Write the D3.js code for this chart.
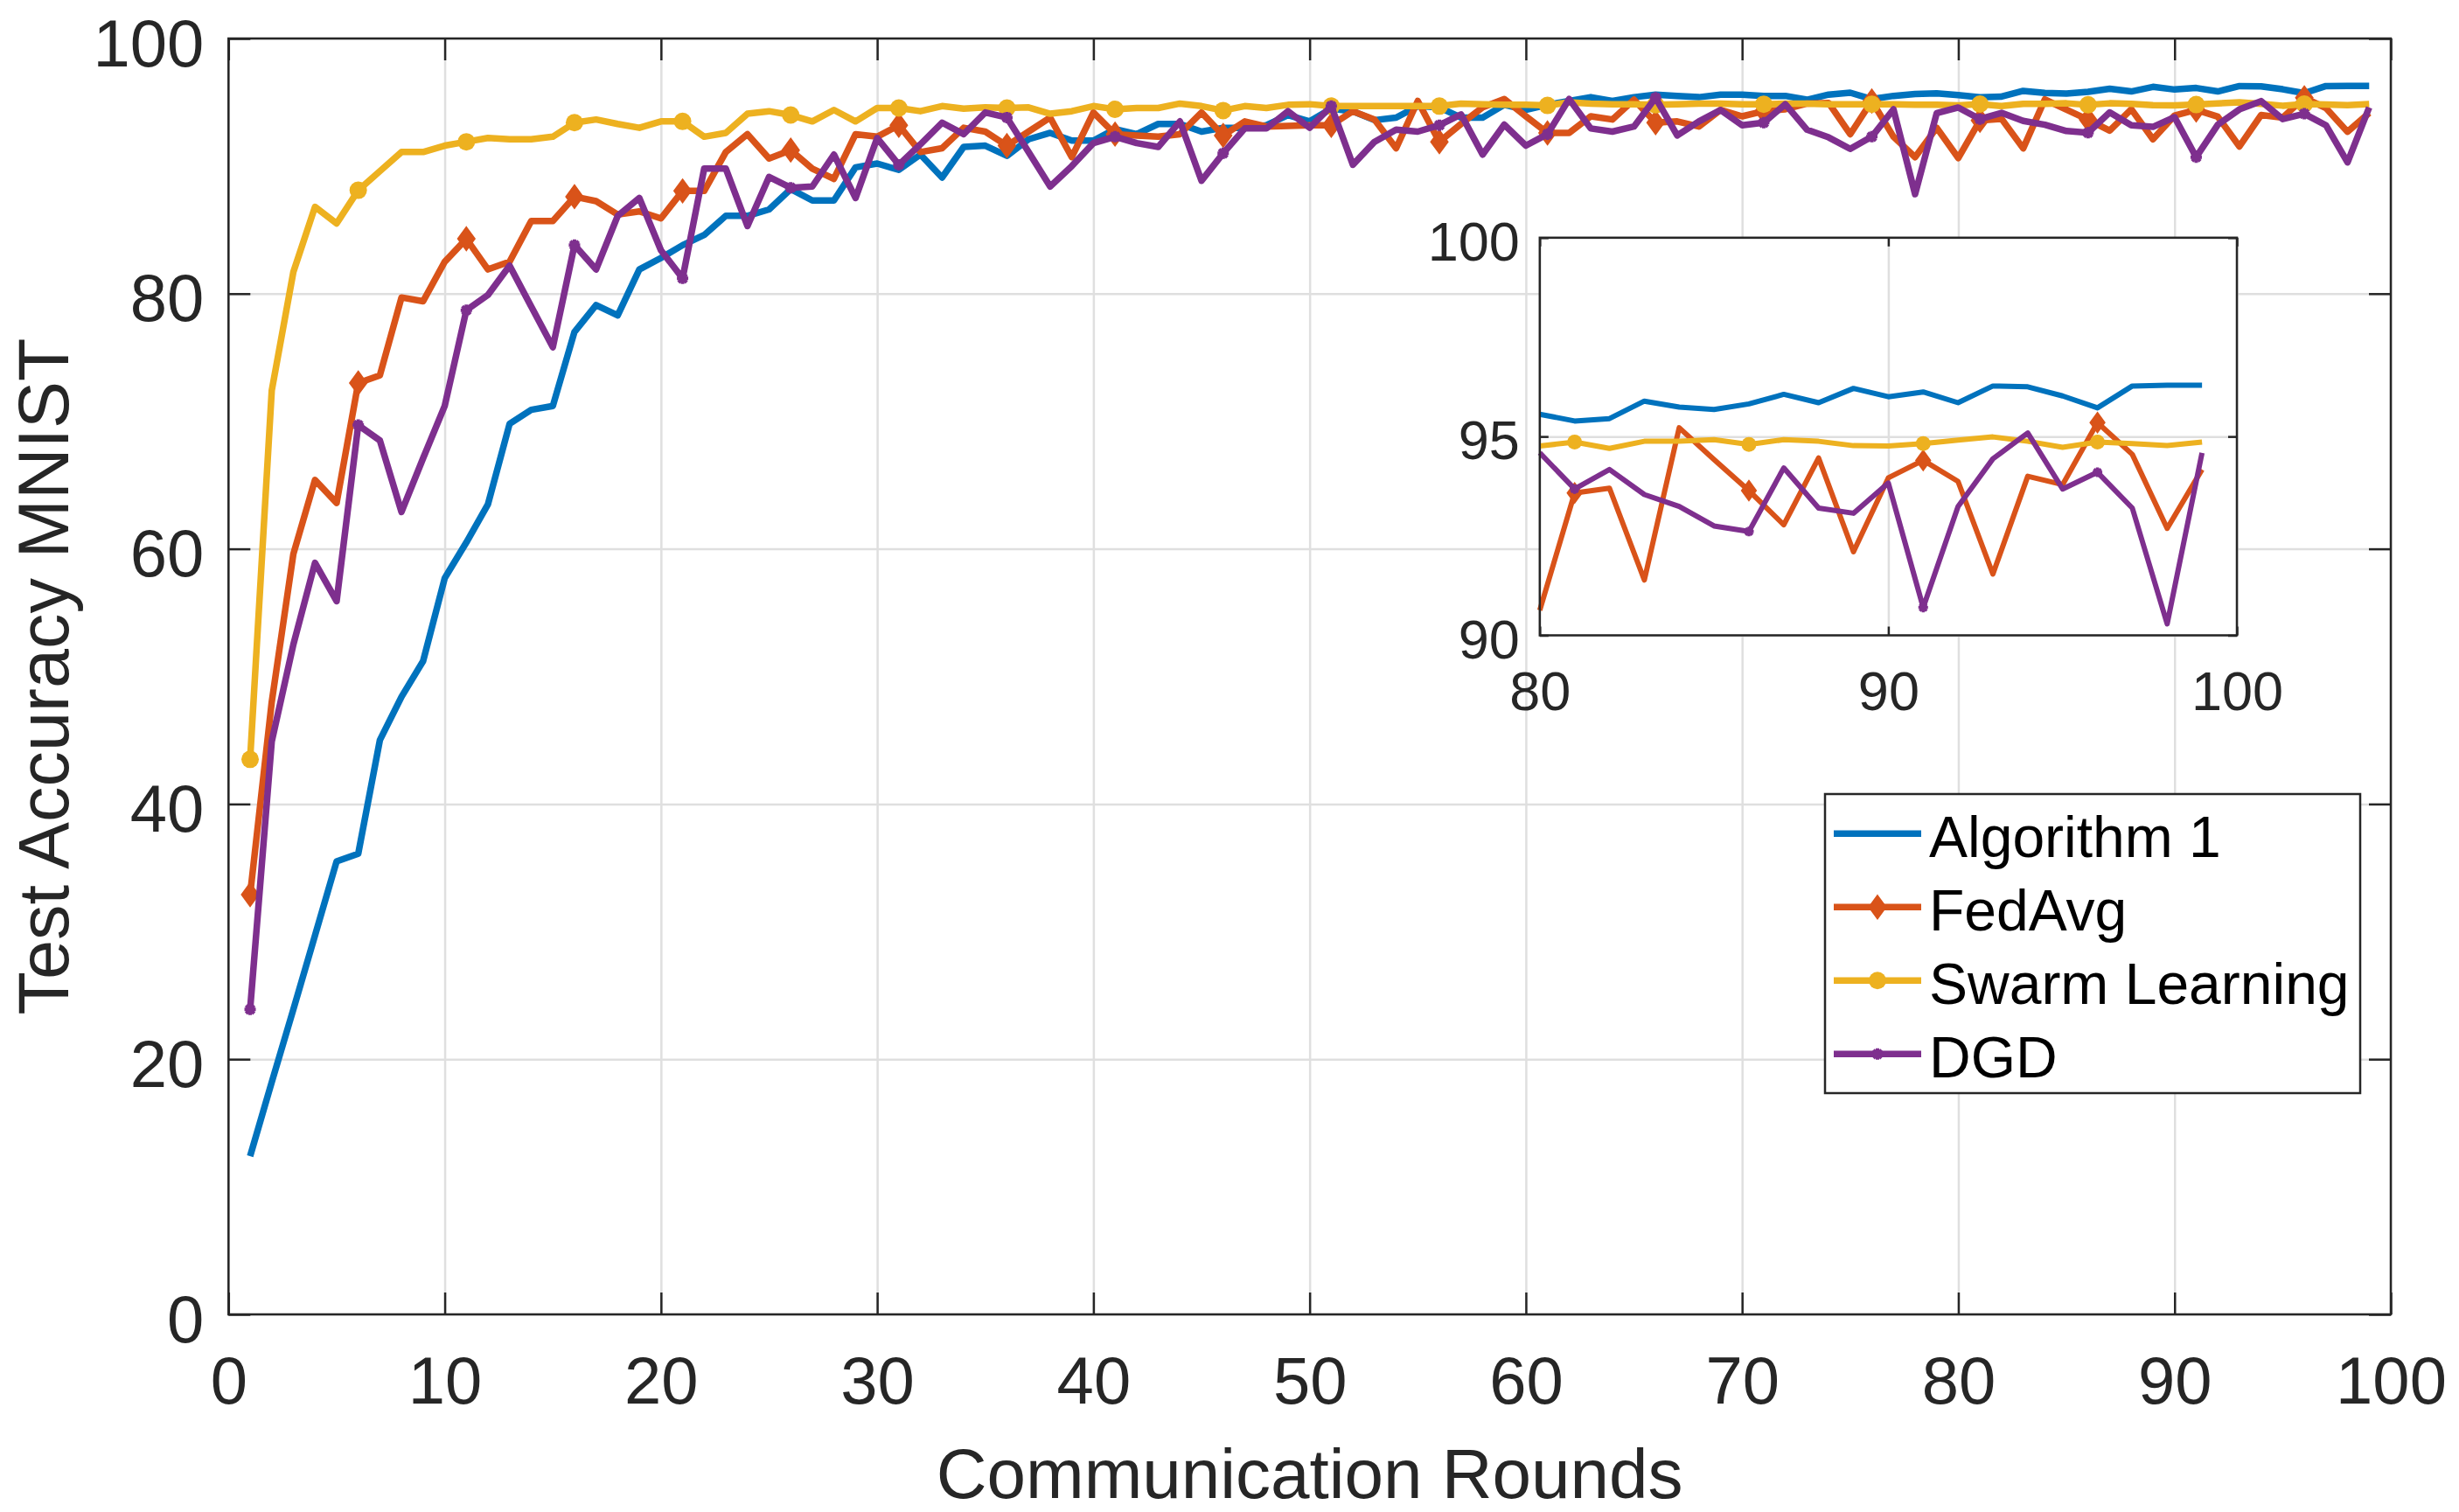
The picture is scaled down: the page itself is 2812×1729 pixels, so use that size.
<!DOCTYPE html>
<html>
<head>
<meta charset="utf-8">
<script src="https://cdn.jsdelivr.net/npm/d3@7"></script>
<style>
  html, body { margin: 0; padding: 0; background: #fff; }
  svg { display: block; }
  text { font-family: "Liberation Sans", Arial, Helvetica, sans-serif; }
</style>
</head>
<body>
<svg id="chart" width="2812" height="1729"></svg>
<script>
/**
 * Data (test accuracy in %, one value per round 1..99).
 */
const rounds = d3.range(1, 100);

const algorithm1 = [
    12.4, 18.2, 23.9, 29.7, 35.5, 36.1, 45.0, 48.4, 51.2, 57.7,
    60.5, 63.5, 69.8, 70.9, 71.2, 77.0, 79.1, 78.3, 81.9, 82.8,
    83.8, 84.6, 86.1, 86.1, 86.6, 88.2, 87.3, 87.3, 89.9, 90.2,
    89.7, 90.9, 89.1, 91.5, 91.6, 90.8, 92.1, 92.6, 92.0, 92.0,
    92.9, 92.5, 93.3, 93.3, 92.7, 93.0, 93.0, 93.2, 94.0, 93.5,
    94.5, 94.3, 93.6, 93.8, 94.7, 94.6, 93.8, 93.8, 94.8, 94.4,
    94.8, 95.1, 95.4, 95.1, 95.4, 95.6, 95.5, 95.4, 95.6, 95.6,
    95.5, 95.5, 95.2, 95.6, 95.75, 95.25, 95.5, 95.65, 95.7, 95.56,
    95.39, 95.45, 95.89, 95.74, 95.68, 95.82, 96.06, 95.85, 96.21, 96.0,
    96.12, 95.85, 96.27, 96.25, 96.02, 95.72, 96.27, 96.29, 96.29
];

const fedAvg = [
    32.9, 48.0, 59.6, 65.4, 63.6, 73.0, 73.6, 79.7, 79.4, 82.5,
    84.3, 81.9, 82.5, 85.7, 85.7, 87.6, 87.25, 86.2, 86.45, 85.9,
    88.05, 88.05, 91.1, 92.5, 90.6, 91.25, 89.8, 89.0, 92.5, 92.3,
    93.2, 91.1, 91.4, 93.0, 92.7, 91.6, 92.7, 93.8, 90.7, 94.2,
    92.5, 92.4, 92.3, 92.5, 94.2, 92.4, 93.5, 93.1, 93.15, 93.2,
    93.2, 94.3, 93.65, 91.4, 95.1, 91.9, 93.3, 94.6, 95.25, 93.9,
    92.6, 92.6, 93.9, 93.65, 95.2, 93.4, 93.5, 93.1, 94.4, 93.9,
    94.3, 94.45, 94.9, 94.95, 92.5, 95.1, 92.3, 90.7, 93.0, 90.63,
    93.58, 93.7, 91.39, 95.22, 94.42, 93.64, 92.78, 94.46, 92.1, 93.96,
    94.4, 93.87, 91.54, 94.0, 93.79, 95.35, 94.55, 92.69, 94.17
];

const swarmLearning = [
    43.5, 72.4, 81.7, 86.8, 85.5, 88.1, 89.6, 91.1, 91.1, 91.6,
    91.9, 92.2, 92.1, 92.1, 92.3, 93.4, 93.65, 93.3, 93.0, 93.5,
    93.5, 92.3, 92.6, 94.1, 94.3, 94.0, 93.5, 94.4, 93.5, 94.55,
    94.55, 94.3, 94.7, 94.5, 94.6, 94.55, 94.6, 94.1, 94.3, 94.7,
    94.45, 94.55, 94.55, 94.9, 94.7, 94.35, 94.7, 94.55, 94.8, 94.85,
    94.7, 94.7, 94.7, 94.7, 94.7, 94.7, 94.9, 94.85, 94.8, 94.8,
    94.75, 95.0, 94.9, 94.85, 94.85, 94.8, 94.85, 94.9, 94.9, 94.85,
    94.85, 94.9, 94.9, 94.85, 94.85, 94.85, 94.85, 94.8, 94.8, 94.76,
    94.86, 94.7, 94.88, 94.88, 94.92, 94.8, 94.92, 94.88, 94.77, 94.76,
    94.82, 94.91, 94.99, 94.88, 94.73, 94.86, 94.82, 94.77, 94.86
];

const dgd = [
    23.9, 44.9, 52.5, 58.9, 55.9, 69.7, 68.5, 62.9, 67.1, 71.2,
    78.7, 79.9, 82.2, 79.0, 75.8, 83.8, 81.9, 86.1, 87.5, 83.4,
    81.2, 89.8, 89.8, 85.3, 89.15, 88.3, 88.4, 90.9, 87.5, 92.2,
    90.1, 91.7, 93.4, 92.5, 94.2, 93.8, 91.1, 88.4, 90.0, 91.8,
    92.3, 91.8, 91.5, 93.5, 88.85, 91.0, 92.95, 92.95, 94.3, 93.0,
    94.7, 90.1, 91.9, 92.85, 92.7, 93.2, 94.05, 90.9, 93.25, 91.6,
    92.5, 95.25, 92.95, 92.7, 93.1, 95.35, 92.4, 93.5, 94.4, 93.2,
    93.4, 94.85, 92.85, 92.25, 91.35, 92.3, 94.45, 87.8, 94.15, 94.59,
    93.68, 94.17, 93.54, 93.24, 92.75, 92.61, 94.21, 93.2, 93.07, 93.83,
    90.7, 93.24, 94.44, 95.09, 93.68, 94.1, 93.2, 90.29, 94.59
];

const seriesNames = ['Algorithm 1', 'FedAvg', 'Swarm Learning', 'DGD'];

const xTicks = [0, 10, 20, 30, 40, 50, 60, 70, 80, 90, 100];
const yTicks = [0, 20, 40, 60, 80, 100];
const insetXTicks = [80, 90, 100];
const insetYTicks = [90, 95, 100];

/**
 * Visual configs.
 */
const axisColor = '#262626',
    gridColor = '#dfdfdf';

const series = [
    { name: seriesNames[0], values: algorithm1, color: '#0072BD', marker: 'none' },
    { name: seriesNames[1], values: fedAvg, color: '#D95319', marker: 'diamond' },
    { name: seriesNames[2], values: swarmLearning, color: '#EDB120', marker: 'circle' },
    { name: seriesNames[3], values: dgd, color: '#7E2F8E', marker: 'asterisk' }
];

const main = { left: 261.3, right: 2734, top: 44, bottom: 1503 },
    inset = { left: 1760.8, right: 2558, top: 271.8, bottom: 726.5 };

const svg = d3.select('#chart');

/**
 * Draws a marker shape into a selection of groups.
 */
function drawMarker(sel, type, color, k) {
    if (type === 'circle') {
        sel.append('circle').attr('r', 10 * k).attr('fill', color);
    } else if (type === 'diamond') {
        sel.append('path')
            .attr('d', `M0,${-13 * k}L${9.5 * k},0L0,${13 * k}L${-9.5 * k},0Z`)
            .attr('fill', color).attr('stroke', color).attr('stroke-width', 2);
    } else if (type === 'asterisk') {
        const r = 6.5 * k, d = r * 0.72;
        sel.append('path')
            .attr('d', `M${-r},0H${r}M0,${-r}V${r}M${-d},${-d}L${d},${d}M${-d},${d}L${d},${-d}`)
            .attr('stroke', color).attr('stroke-width', 4 * k).attr('fill', 'none');
    }
}

/**
 * Draws one axes panel (grid, series, box, ticks).
 */
function drawPanel(box, xDomain, yDomain, opt) {
    const width = box.right - box.left,
        height = box.bottom - box.top;

    const xScale = d3.scaleLinear().domain(xDomain).range([box.left, box.right]),
        yScale = d3.scaleLinear().domain(yDomain).range([box.bottom, box.top]);

    const g = svg.append('g').attr('class', opt.cls);

    // Background
    g.append('rect')
        .attr('x', box.left).attr('y', box.top)
        .attr('width', width).attr('height', height)
        .attr('fill', '#fff');

    // Grid
    const gridX = g.append('g').attr('transform', `translate(0,${box.bottom})`)
        .call(d3.axisBottom(xScale).tickValues(opt.xTicks).tickSize(-height).tickFormat(''));
    const gridY = g.append('g').attr('transform', `translate(${box.left},0)`)
        .call(d3.axisLeft(yScale).tickValues(opt.yTicks).tickSize(-width).tickFormat(''));
    [gridX, gridY].forEach(a => {
        a.select('.domain').remove();
        a.selectAll('line').attr('stroke', gridColor).attr('stroke-width', 2.5);
    });

    // Series
    const line = d3.line().x(d => xScale(d[0])).y(d => yScale(d[1]));
    const items = g.append('g').attr('class', 'items');
    series.forEach(s => {
        const pts = rounds.map((r, i) => [r, s.values[i]])
            .filter(d => d[0] >= xDomain[0] && d[0] <= xDomain[1]);
        const item = items.append('g').attr('class', 'item');
        item.append('path')
            .attr('d', line(pts))
            .attr('fill', 'none')
            .attr('stroke', s.color)
            .attr('stroke-width', opt.lineWidth)
            .attr('stroke-linejoin', 'round');
        if (s.marker !== 'none') {
            const marks = pts.filter(d => (d[0] - 1) % 5 === 0);
            item.selectAll('g.mark').data(marks).enter().append('g')
                .attr('class', 'mark')
                .attr('transform', d => `translate(${xScale(d[0])},${yScale(d[1])})`)
                .call(sel => drawMarker(sel, s.marker, s.color, opt.markerScale));
        }
    });

    // Axes with inward ticks on all four sides
    const t = opt.tickLen;
    const xBottom = g.append('g').attr('transform', `translate(0,${box.bottom})`)
        .call(d3.axisBottom(xScale).tickValues(opt.xTicks).tickSizeInner(-t).tickSizeOuter(0)
            .tickPadding(opt.xPad).tickFormat(d3.format('d')));
    const yLeft = g.append('g').attr('transform', `translate(${box.left},0)`)
        .call(d3.axisLeft(yScale).tickValues(opt.yTicks).tickSizeInner(-t).tickSizeOuter(0)
            .tickPadding(opt.yPad).tickFormat(d3.format('d')));
    const xTop = g.append('g').attr('transform', `translate(0,${box.top})`)
        .call(d3.axisTop(xScale).tickValues(opt.xTicks).tickSizeInner(-t).tickSizeOuter(0).tickFormat(''));
    const yRight = g.append('g').attr('transform', `translate(${box.right},0)`)
        .call(d3.axisRight(yScale).tickValues(opt.yTicks).tickSizeInner(-t).tickSizeOuter(0).tickFormat(''));

    [xBottom, yLeft, xTop, yRight].forEach(a => {
        a.select('.domain').remove();
        a.selectAll('line').attr('stroke', axisColor).attr('stroke-width', 2.5);
        a.selectAll('text')
            .attr('fill', axisColor)
            .attr('font-size', opt.fontSize)
            .attr('font-family', '"Liberation Sans", Arial, Helvetica, sans-serif');
    });
    yLeft.selectAll('text').attr('dy', '0.41em');

    // Box
    g.append('rect')
        .attr('x', box.left).attr('y', box.top)
        .attr('width', width).attr('height', height)
        .attr('fill', 'none')
        .attr('stroke', axisColor)
        .attr('stroke-width', 2.5);

    return { xScale, yScale };
}

// Main axes
drawPanel(main, [0, 100], [0, 100], {
    cls: 'main', xTicks, yTicks,
    lineWidth: 7.5, markerScale: 1, tickLen: 25,
    xPad: 48, yPad: 28, fontSize: 76
});

// Axis labels
svg.append('text')
    .attr('x', (main.left + main.right) / 2)
    .attr('y', 1713)
    .attr('text-anchor', 'middle')
    .attr('font-size', 80)
    .attr('fill', axisColor)
    .text('Communication Rounds');

svg.append('text')
    .attr('transform', `translate(78,${(main.top + main.bottom) / 2}) rotate(-90)`)
    .attr('text-anchor', 'middle')
    .attr('font-size', 81)
    .attr('fill', axisColor)
    .text('Test Accuracy MNIST');

// Inset axes
drawPanel(inset, [80, 100], [90, 100], {
    cls: 'inset', xTicks: insetXTicks, yTicks: insetYTicks,
    lineWidth: 6, markerScale: 0.85, tickLen: 10,
    xPad: 41, yPad: 23, fontSize: 63
});

// Legend
const legend = svg.append('g').attr('class', 'legend');
legend.append('rect')
    .attr('x', 2087).attr('y', 908)
    .attr('width', 612).attr('height', 342)
    .attr('fill', '#fff')
    .attr('stroke', axisColor)
    .attr('stroke-width', 2.5);

const legendItems = legend.selectAll('g.entry').data(series).enter().append('g')
    .attr('class', 'entry')
    .attr('transform', (d, i) => `translate(2097,${953.3 + i * 84})`);
legendItems.append('line')
    .attr('x1', 0).attr('x2', 100)
    .attr('stroke', d => d.color)
    .attr('stroke-width', 7.5);
legendItems.each(function(d) {
    const m = d3.select(this).append('g').attr('transform', 'translate(50,0)');
    drawMarker(m, d.marker, d.color, 1);
});
legendItems.append('text')
    .attr('x', 109).attr('y', 27)
    .attr('font-size', 66)
    .attr('fill', '#000')
    .text(d => d.name);
</script>
</body>
</html>
